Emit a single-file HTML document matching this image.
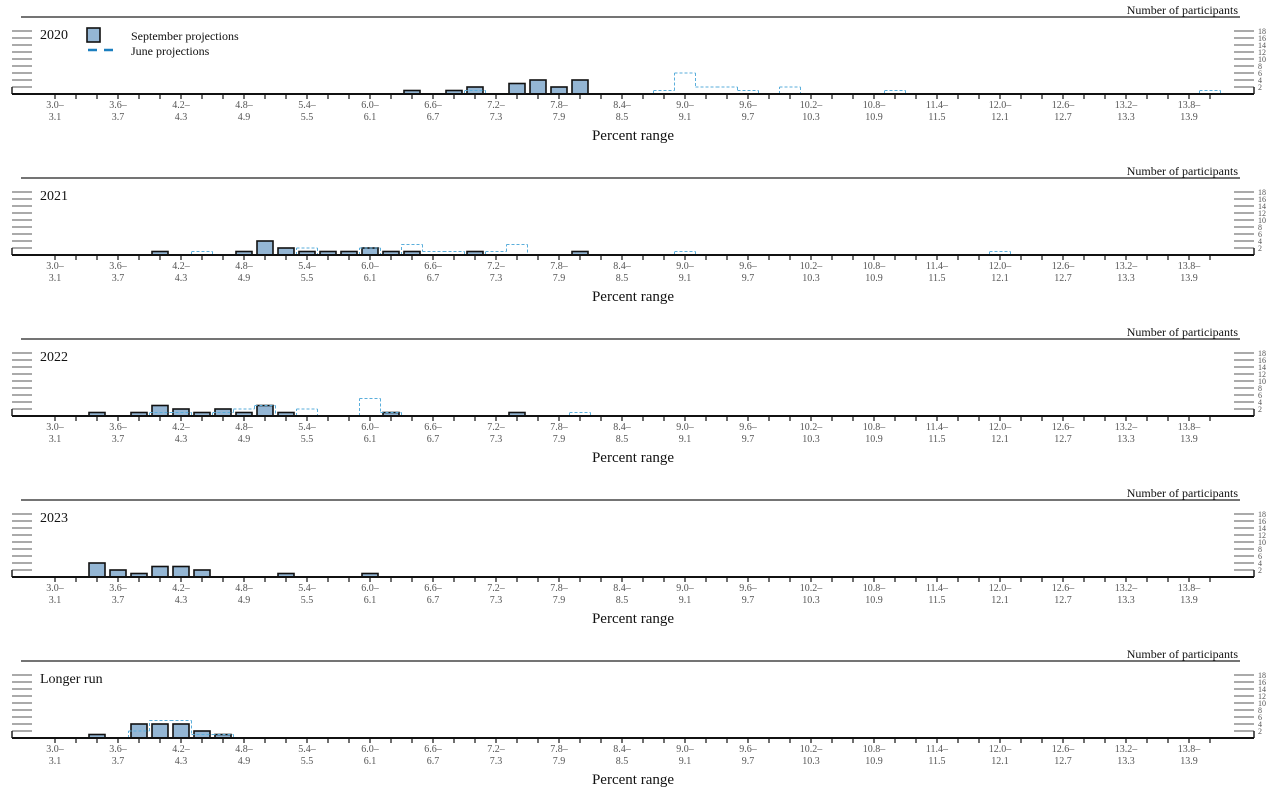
<!DOCTYPE html>
<html><head><meta charset="utf-8">
<style>
html,body{margin:0;padding:0;background:#fff;}
svg{display:block;font-family:"Liberation Serif",serif;}
</style></head>
<body>
<svg id="chart" width="1274" height="791" viewBox="0 0 1274 791" xmlns="http://www.w3.org/2000/svg"></svg>
<script>
// Data arrays (bin index -> number of participants), bins of 0.2 starting at 3.0
const panelTitles = ["2020", "2021", "2022", "2023", "Longer run"];
const binStarts = [3.0,3.2,3.4,3.6,3.8,4.0,4.2,4.4,4.6,4.8,5.0,5.2,5.4,5.6,5.8,6.0,6.2,6.4,6.6,6.8,7.0,7.2,7.4,7.6,7.8,8.0,8.2,8.4,8.6,8.8,9.0,9.2,9.4,9.6,9.8,10.0,10.2,10.4,10.6,10.8,11.0,11.2,11.4,11.6,11.8,12.0,12.2,12.4,12.6,12.8,13.0,13.2,13.4,13.6,13.8,14.0];
const yTicks = [2,4,6,8,10,12,14,16,18];
const sep2020 = {17:1,19:1,20:2,22:3,23:4,24:2,25:4};
const jun2020 = {20:1,29:1,30:6,31:2,32:2,33:1,35:2,40:1,55:1};
const sep2021 = {5:1,9:1,10:4,11:2,12:1,13:1,14:1,15:2,16:1,17:1,20:1,25:1};
const jun2021 = {7:1,12:2,15:2,17:3,18:1,19:1,21:1,22:3,30:1,45:1};
const sep2022 = {2:1,4:1,5:3,6:2,7:1,8:2,9:1,10:3,11:1,16:1,22:1};
const jun2022 = {5:1,6:1,8:1,9:2,10:3,12:2,15:5,16:1,25:1};
const sep2023 = {2:4,3:2,4:1,5:3,6:3,7:2,11:1,15:1};
const jun2023 = {};
const sepLR = {2:1,4:4,5:4,6:4,7:2,8:1};
const junLR = {4:2,5:5,6:5,7:1,8:1};
const sepSeries = [sep2020, sep2021, sep2022, sep2023, sepLR];
const junSeries = [jun2020, jun2021, jun2022, jun2023, junLR];

const NS = "http://www.w3.org/2000/svg";
const svg = document.getElementById("chart");
const X0 = 55, BW = 21, UNIT = 3.5, AXL = 12, AXR = 1254;
function xScale(i){ return X0 + BW*i; }
function yScale(v, base){ return base - v*UNIT; }
function mk(tag, attrs, parent, text){
  const e = document.createElementNS(NS, tag);
  for (const k in attrs) e.setAttribute(k, attrs[k]);
  if (text !== undefined) e.textContent = text;
  (parent||svg).appendChild(e);
  return e;
}

panelTitles.forEach((title, p) => {
  const off = p*161;
  const base = 94 + off;
  const g = mk("g", {});
  
  

  const top = mk("line", {x1:21, x2:1240, y1:17+off, y2:17+off, stroke:"#222", "stroke-width":1.2}, g);
  
  

  const np = mk("text", {x:1238, y:14+off, "text-anchor":"end", "font-size":12, fill:"#111"}, g, "Number of participants");
  
  

  const tt = mk("text", {x:40, y:39+off, "font-size":14, fill:"#111"}, g, title);
  
  

  yTicks.forEach(v => {
    const y = yScale(v, base);
    const l1 = mk("line", {x1:AXL, x2:AXL+20, y1:y, y2:y, stroke:"#555", "stroke-width":1}, g);
    
    
    const l2 = mk("line", {x1:AXR-20, x2:AXR, y1:y, y2:y, stroke:"#555", "stroke-width":1}, g);
    
    
    const tl = mk("text", {x:AXR+4, y:y+3, "font-size":8, fill:"#555"}, g, String(v));
    
    
  });
  const lv = mk("line", {x1:AXL, x2:AXL, y1:base, y2:yScale(2,base), stroke:"#222", "stroke-width":1.5}, g);
  
  
  const rv = mk("line", {x1:AXR, x2:AXR, y1:base, y2:yScale(2,base), stroke:"#222", "stroke-width":1.5}, g);
  
  

  const sep = sepSeries[p];
  Object.keys(sep).forEach(k => {
    const i = +k, v = sep[k];
    const cx = xScale(i);
    const r = mk("rect", {x:cx-8, y:yScale(v,base), width:16, height:v*UNIT, fill:"#94b6d4", stroke:"#111", "stroke-width":1.6}, g);
    
    
  });
  const jun = junSeries[p];
  const idx = Object.keys(jun).map(Number);
  if (idx.length){
    const lo = Math.min(...idx), hi = Math.max(...idx);
    let d = "";
    for (let i = lo; i <= hi+1; i++){
      const prev = jun[i-1]||0, cur = jun[i]||0;
      const xb = xScale(i) - BW/2;
      if (prev !== cur) d += `M${xb},${yScale(prev,base)}L${xb},${yScale(cur,base)}`;
      if (cur > 0 && i <= hi) d += `M${xb},${yScale(cur,base)}L${xb+BW},${yScale(cur,base)}`;
    }
    const pth = mk("path", {d:d, fill:"none", stroke:"#5aaedb", "stroke-width":1, "stroke-dasharray":"3,2"}, g);
    
    
  }

  const ax = mk("line", {x1:AXL, x2:AXR, y1:base, y2:base, stroke:"#111", "stroke-width":2}, g);
  
  
  binStarts.forEach((b, i) => {
    const x = xScale(i);
    if (x > AXR) return;
    const t = mk("line", {x1:x, x2:x, y1:base, y2:base+5, stroke:"#111", "stroke-width":1.2}, g);
    
    
    if (i % 3 === 0 && i <= 54){
      const a = mk("text", {x:x, y:base+14, "text-anchor":"middle", "font-size":10, fill:"#555"}, g, b.toFixed(1) + "\u2013");
      
      
      const c = mk("text", {x:x, y:base+26, "text-anchor":"middle", "font-size":10, fill:"#555"}, g, (b+0.1).toFixed(1));
      
      
    }
  });
  const pr = mk("text", {x:633, y:base+46, "text-anchor":"middle", "font-size":15, fill:"#111"}, g, "Percent range");
  
  
});

const lg = mk("g", {});


const lb = mk("rect", {x:87, y:28, width:13, height:14, fill:"#94b6d4", stroke:"#111", "stroke-width":1.6}, lg);


const lt1 = mk("text", {x:131, y:40, "font-size":12, fill:"#111"}, lg, "September projections");


const ll = mk("line", {x1:88, x2:118, y1:50, y2:50, stroke:"#1b7fbf", "stroke-width":2.5, "stroke-dasharray":"9,7"}, lg);


const lt2 = mk("text", {x:131, y:55, "font-size":12, fill:"#111"}, lg, "June projections");


</script>
</body></html>
